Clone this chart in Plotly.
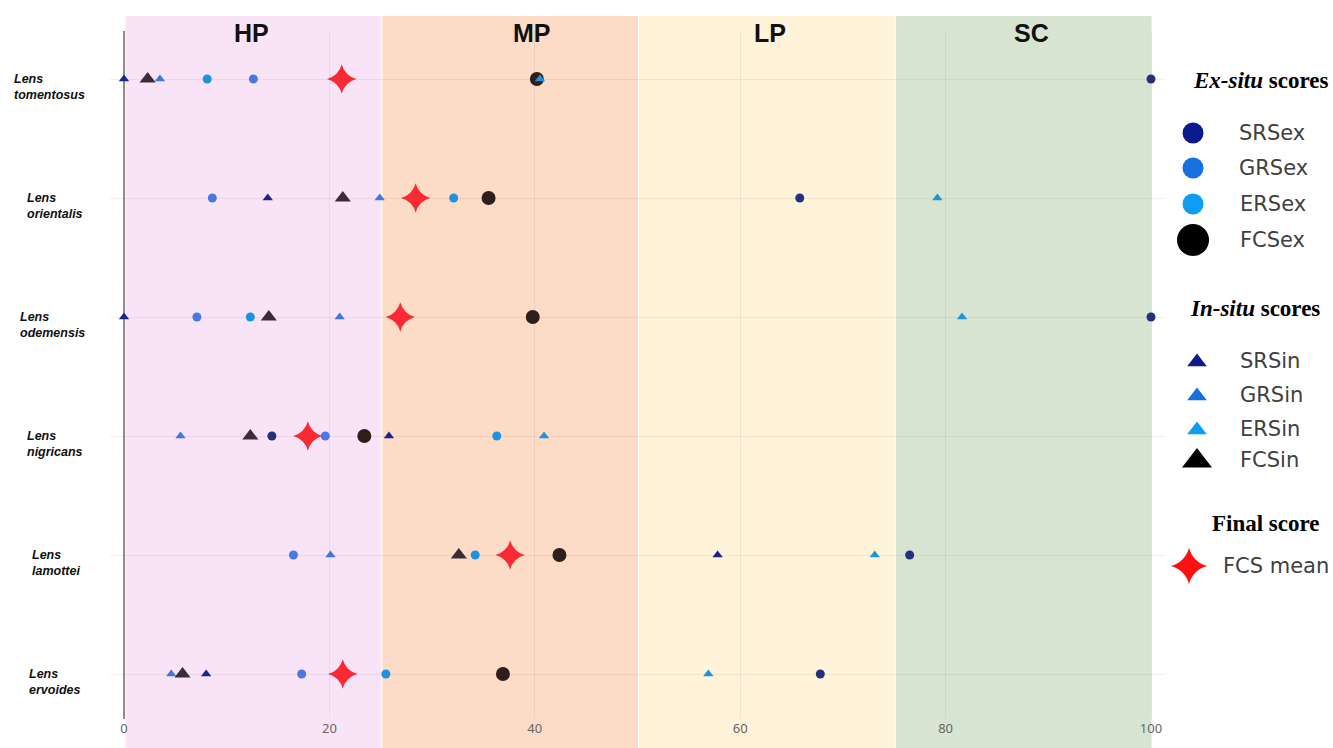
import plotly.graph_objects as go

# ---------------- data ----------------
species = ["Lens tomentosus", "Lens orientalis", "Lens odemensis",
           "Lens nigricans", "Lens lamottei", "Lens ervoides"]
species_labels = ["Lens<br>tomentosus", "Lens<br>orientalis", "Lens<br>odemensis",
                  "Lens<br>nigricans", "Lens<br>lamottei", "Lens<br>ervoides"]

srs_ex = [100.0, 65.8, 100.0, 14.4, 76.5, 67.8]
grs_ex = [12.6, 8.6, 7.1, 19.6, 16.5, 17.3]
ers_ex = [8.1, 32.1, 12.3, 36.3, 34.2, 25.5]
fcs_ex = [40.2, 35.5, 39.8, 23.4, 42.4, 36.9]

srs_in = [0.0, 14.0, 0.0, 25.8, 57.8, 8.0]
grs_in = [3.5, 24.9, 21.0, 5.5, 20.1, 4.6]
ers_in = [40.5, 79.2, 81.6, 40.9, 73.1, 56.9]
fcs_in = [2.3, 21.3, 14.1, 12.3, 32.6, 5.7]

fcs_mean = [21.2, 28.4, 26.9, 17.9, 37.6, 21.3]

band_names = ["HP", "MP", "LP", "SC"]
band_start = [0, 25, 50, 75]
band_end = [25, 50, 75, 100]
band_label_x = [12.4, 39.7, 62.9, 88.4]

x_ticks = [0, 20, 40, 60, 80, 100]

# ---------------- layout geometry (pixels) ----------------
W, H = 1333, 748
X0_PX, PX_PER_UNIT = 124, 10.27
plot_left, plot_right, plot_top, plot_bottom = 110, 1165, 31, 719
row_top_px, row_bottom_px, row_gap = 79, 674, 119

x_range = [(plot_left - X0_PX) / PX_PER_UNIT, (plot_right - X0_PX) / PX_PER_UNIT]
y_range = [-(plot_bottom - row_bottom_px) / row_gap,
           (len(species) - 1) + (row_top_px - plot_top) / row_gap]

band_colors = ["#f8e4f6", "#fcdcc7", "#fff3da", "#d8e4d2"]
label_left_px = [12, 25, 18, 25, 30, 27]

fig = go.Figure()

# ---------------- data traces ----------------
series = [
    ("FCS mean", fcs_mean, "star-diamond", 21, "#fa2a35"),
    ("FCSex", fcs_ex, "circle", 14, "#2e1f1c"),
    ("FCSin", fcs_in, "triangle-up", 14, "#3a2c38"),
    ("SRSex", srs_ex, "circle", 9, "#24307d"),
    ("GRSex", grs_ex, "circle", 9, "#4a78e3"),
    ("ERSex", ers_ex, "circle", 9, "#1e92df"),
    ("SRSin", srs_in, "triangle-up", 9, "#1b2390"),
    ("GRSin", grs_in, "triangle-up", 9, "#3f76e2"),
    ("ERSin", ers_in, "triangle-up", 9, "#1d94dc"),
]
for name, vals, sym, size, col in series:
    fig.add_trace(go.Scatter(
        x=vals, y=species, mode="markers", name=name,
        marker=dict(symbol=sym, size=size, color=col, line=dict(width=0)),
        showlegend=False, cliponaxis=False, xaxis="x", yaxis="y"))

# ---------------- manual legend ----------------
legend_x0 = 1165
legend_items = [
    ("SRSex", "circle", 21, "#0b1a8f", 1193, 133, 1237),
    ("GRSex", "circle", 21, "#1570e0", 1193, 168, 1237),
    ("ERSex", "circle", 21, "#0e9cf5", 1193, 204, 1238),
    ("FCSex", "circle", 32, "#000000", 1193, 240, 1238),
    ("SRSin", "triangle-up", 17, "#0b1a8f", 1197, 362, 1238),
    ("GRSin", "triangle-up", 17, "#1570e0", 1197, 396, 1238),
    ("ERSin", "triangle-up", 17, "#0e9cf5", 1197, 430, 1238),
    ("FCSin", "triangle-up", 26, "#000000", 1197, 461, 1238),
    ("FCS mean", "star-diamond", 26, "#ff1010", 1189, 566, 1221),
]
for name, sym, size, col, mx, my, tx in legend_items:
    fig.add_trace(go.Scatter(
        x=[mx], y=[my], mode="markers",
        marker=dict(symbol=sym, size=size, color=col, line=dict(width=0)),
        showlegend=False, hoverinfo="skip", cliponaxis=False,
        xaxis="x2", yaxis="y2"))

annotations = []
for name, sym, size, col, mx, my, tx in legend_items:
    ty = my - 1 if sym == "triangle-up" else my
    annotations.append(dict(
        x=tx, y=ty, xref="x2", yref="y2", text=name, showarrow=False,
        xanchor="left", yanchor="middle",
        font=dict(family="DejaVu Sans", size=21, color="#404040")))

legend_titles = [
    ("<b><i>Ex-situ</i> scores</b>", 1330, 80),
    ("<b><i>In-situ</i> scores</b>", 1322, 308),
    ("<b>Final score</b>", 1322, 523),
]
for txt, tx, ty in legend_titles:
    annotations.append(dict(
        x=tx, y=ty, xref="x2", yref="y2", text=txt, showarrow=False,
        xanchor="right", yanchor="middle",
        font=dict(family="Liberation Serif", size=23, color="#000000")))

# ---------------- band shapes & labels ----------------
shapes = []
for b0, b1, col in zip(band_start, band_end, band_colors):
    shapes.append(dict(
        type="rect", xref="x", yref="paper",
        x0=b0 + 0.15, x1=b1 + 0.05, y0=0, y1=1 - 16 / H,
        fillcolor=col, line=dict(width=0), layer="below"))

for name, lx in zip(band_names, band_label_x):
    annotations.append(dict(
        x=lx, y=1 - 33 / H, xref="x", yref="paper", text="<b>" + name + "</b>",
        showarrow=False, xanchor="center", yanchor="middle",
        font=dict(family="Liberation Sans", size=25, color="#111111")))

# ---------------- species labels ----------------
for sp, lab, lpx in zip(species, species_labels, label_left_px):
    annotations.append(dict(
        x=lpx / W, y=sp, xref="paper", yref="y", yshift=-8,
        text="<b><i>" + lab + "</i></b>", showarrow=False,
        xanchor="left", yanchor="middle", align="left",
        font=dict(family="Liberation Sans", size=12.5, color="#111111")))

fig.update_layout(
    width=W, height=H,
    template="none",
    margin=dict(l=0, r=0, t=0, b=0, pad=0),
    paper_bgcolor="white", plot_bgcolor="rgba(0,0,0,0)",
    font=dict(family="Noto Sans", color="#444"),
    showlegend=False,
    shapes=shapes, annotations=annotations,
    xaxis=dict(
        domain=[plot_left / W, plot_right / W], range=x_range,
        tickvals=x_ticks, ticktext=[str(t) for t in x_ticks],
        showgrid=True, gridcolor="rgba(0,0,0,0.055)", gridwidth=1,
        zeroline=True, zerolinecolor="#8e8e8e", zerolinewidth=2,
        showline=False, ticks="",
        tickfont=dict(family="Noto Sans", size=13, color="#666666"),
        automargin=False, anchor="y", fixedrange=True),
    yaxis=dict(
        domain=[1 - plot_bottom / H, 1 - plot_top / H],
        type="category", categoryorder="array", categoryarray=species[::-1],
        range=y_range, showgrid=True, gridcolor="rgba(0,0,0,0.055)",
        zeroline=False, showline=False, showticklabels=False, ticks="",
        automargin=False, anchor="x", fixedrange=True),
    xaxis2=dict(
        domain=[legend_x0 / W, 1], range=[legend_x0, W],
        visible=False, showgrid=False, zeroline=False,
        anchor="y2", fixedrange=True),
    yaxis2=dict(
        domain=[0, 1], range=[H, 0],
        visible=False, showgrid=False, zeroline=False,
        anchor="x2", fixedrange=True),
)

fig.write_html(
    "out.html",
    config={"displayModeBar": False},
    post_script="document.body.style.margin='0px';"
                "document.body.style.padding='0px';"
                "document.documentElement.style.overflow='hidden';"
                "document.body.style.overflow='hidden';",
)
